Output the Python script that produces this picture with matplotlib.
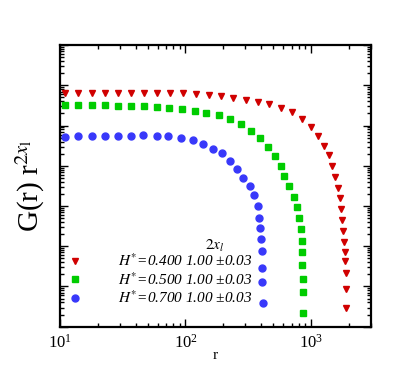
import matplotlib
matplotlib.use('Agg')
import matplotlib.pyplot as plt
from matplotlib.ticker import NullFormatter, LogLocator
from matplotlib.lines import Line2D

plt.rcParams['font.family'] = ['Liberation Serif', 'DejaVu Serif']
plt.rcParams['mathtext.fontset'] = 'stix'

# H* = 0.400
r_red = [11, 14, 18, 23, 29, 37, 47, 59, 75, 96,
         121, 153, 191, 241, 302, 378, 463, 578, 708, 855,
         995, 1138, 1276, 1400, 1479, 1556, 1637, 1706, 1738, 1778,
         1811, 1837, 1862, 1879, 1905, 1912, 1916]
g_red = [0.631, 0.631, 0.631, 0.631, 0.631, 0.631, 0.631, 0.631, 0.631, 0.631,
         0.598, 0.562, 0.531, 0.496, 0.442, 0.390, 0.342, 0.280, 0.216, 0.147,
         0.0933, 0.0557, 0.0317, 0.0182, 0.00984, 0.00533, 0.00288, 0.00155, 8.26e-4, 4.40e-4,
         2.34e-4, 1.25e-4, 7.05e-5, 4.21e-5, 2.12e-5, 8.64e-6, 2.96e-6]

# H* = 0.500
r_green = [11, 14, 18, 23, 29, 37, 47, 59, 74.5, 94.2,
           118, 147, 184, 226, 279, 334, 396, 455, 518, 573,
           611, 667, 728, 776, 809, 836, 847, 851, 855, 864,
           866, 868]
g_green = [0.317, 0.317, 0.317, 0.317, 0.310, 0.310, 0.310, 0.293, 0.272, 0.257,
           0.233, 0.208, 0.182, 0.1425, 0.1076, 0.0742, 0.0489, 0.0297, 0.0177, 0.0101,
           0.00555, 0.00308, 0.00170, 9.27e-4, 4.93e-4, 2.63e-4, 1.37e-4, 7.05e-5, 3.37e-5, 1.51e-5,
           7.40e-6, 2.22e-6]

# H* = 0.700
r_blue = [11, 14, 18, 23, 29, 37, 46, 59, 73, 92.5,
          114, 137, 166, 195, 226, 256, 288, 325, 352, 375,
          384, 393, 398, 404, 407, 410, 412]
g_blue = [0.0526, 0.0557, 0.0548, 0.0538, 0.0548, 0.0557, 0.0570, 0.0538, 0.0548, 0.0480,
          0.0443, 0.0347, 0.0265, 0.0207, 0.0135, 0.00830, 0.00495, 0.00318, 0.00193, 0.00103,
          5.11e-4, 2.88e-4, 1.51e-4, 7.60e-5, 2.82e-5, 1.29e-5, 3.81e-6]

labels = [r'$H^{*}$=0.400', r'$H^{*}$=0.500', r'$H^{*}$=0.700']
exponents = ['1.00 \u00b10.03', '1.00 \u00b10.03', '1.00 \u00b10.03']

red = '#d00000'
green = '#00cc00'
blue = '#3838fa'

fig = plt.figure(figsize=(4.15, 3.7), dpi=100)
ax = fig.add_axes([0.1446, 0.117, 0.749, 0.761])

ax.plot(r_red, g_red, 'v', color=red, ms=4.5, mec=red)
ax.plot(r_green, g_green, 's', color=green, ms=4, mec=green)
ax.plot(r_blue, g_blue, 'o', color=blue, ms=5, mec=blue)

ax.set_xscale('log')
ax.set_yscale('log')
ax.set_xlim(10, 3000)
ax.set_ylim(1e-6, 10)

ax.yaxis.set_major_formatter(NullFormatter())
ax.yaxis.set_minor_formatter(NullFormatter())
ax.yaxis.set_minor_locator(LogLocator(base=10, subs=range(2, 10), numticks=20))
ax.tick_params(which='both', direction='in', top=True, right=True, width=1)
ax.tick_params(which='major', length=6)
ax.tick_params(which='minor', length=3)
ax.tick_params(axis='x', labelsize=12, pad=5)
for s in ax.spines.values():
    s.set_linewidth(1.6)

ax.set_xlabel('r', fontsize=11, labelpad=-2)
ax.set_ylabel(r'G(r) r$^{2x_{\mathrm{l}}}$', fontsize=21, labelpad=6)

handles = [Line2D([], [], ls='none', marker='v', color=red, ms=4.5),
           Line2D([], [], ls='none', marker='s', color=green, ms=4),
           Line2D([], [], ls='none', marker='o', color=blue, ms=5)]
leg_labels = [a + ' ' + b for a, b in zip(labels, exponents)]
leg = ax.legend(handles, leg_labels, loc='lower left', bbox_to_anchor=(-0.012, 0.035),
                frameon=False, fontsize=11, handlelength=1.0, handletextpad=2.35,
                labelspacing=0.12, borderaxespad=0.3)
for t in leg.get_texts():
    t.set_fontstyle('italic')
ax.text(0.497, 0.286, r'$\mathit{2}x_l$', transform=ax.transAxes, fontsize=11,
        ha='center', va='center')

fig.savefig('out.png', dpi=100)
